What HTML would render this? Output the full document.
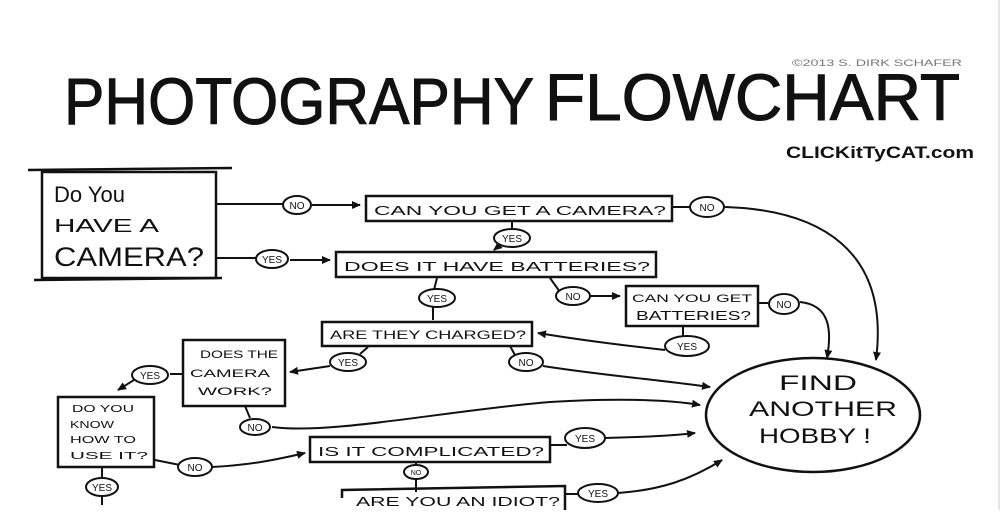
<!DOCTYPE html>
<html><head><style>
html,body{margin:0;padding:0;background:#fff;}
svg{display:block;}
text{font-family:"Liberation Sans",sans-serif;fill:#111;}
</style></head><body>
<svg width="1004" height="521" viewBox="0 0 1004 521" xmlns="http://www.w3.org/2000/svg">
<defs>
<marker id="a" markerWidth="10" markerHeight="10" refX="8" refY="5" orient="auto" markerUnits="userSpaceOnUse"><path d="M0,1 L9,5 L0,9 z" fill="#111"/></marker>
</defs>
<rect x="0" y="0" width="1004" height="521" fill="#fff"/>
<line x1="999" y1="0" x2="999" y2="510" stroke="#e4e4e4" stroke-width="2"/>
<text x="64" y="124" font-size="66" stroke="#111" stroke-width="1" textLength="470" lengthAdjust="spacingAndGlyphs" style="font-family:'Liberation Sans Narrow','Liberation Sans',sans-serif">PHOTOGRAPHY</text>
<text x="545" y="120" font-size="66" stroke="#111" stroke-width="1" textLength="415" lengthAdjust="spacingAndGlyphs" style="font-family:'Liberation Sans Narrow','Liberation Sans',sans-serif">FLOWCHART</text>
<text x="792" y="66" font-size="9" style="fill:#777" textLength="170" lengthAdjust="spacingAndGlyphs">©2013 S. DIRK SCHAFER</text>
<text x="786" y="158" font-size="17" font-weight="bold" textLength="188" lengthAdjust="spacingAndGlyphs">CLICKitTyCAT.com</text>

<g fill="none" stroke="#111" stroke-width="2.5">
<rect x="42" y="172" width="174" height="106"/>
<line x1="28" y1="170" x2="232" y2="168"/>
<line x1="34" y1="280" x2="222" y2="278"/>
<rect x="366" y="196" width="306" height="25"/>
<rect x="336" y="252" width="320" height="25"/>
<rect x="322" y="322" width="210" height="24"/>
<rect x="626" y="286" width="132" height="40"/>
<rect x="183" y="340" width="102" height="66"/>
<rect x="58" y="397" width="96" height="70"/>
<rect x="310" y="437" width="240" height="25"/>
<path d="M342,498 L342,490 L565,486 L565,510"/>
<ellipse cx="813" cy="415" rx="107" ry="57"/>
</g>

<g fill="none" stroke="#111" stroke-width="2">
<path d="M216,204 H283"/><path d="M312,205 H360" marker-end="url(#a)"/>
<path d="M216,258 H256"/><path d="M290,260 H330" marker-end="url(#a)"/>
<path d="M672,207 H690"/>
<path d="M725,207 C820,210 890,250 876,360" marker-end="url(#a)"/>
<path d="M512,222 V230"/><path d="M500,245 L494,250" marker-end="url(#a)"/>
<path d="M437,278 L434,290"/><path d="M433,306 V320"/>
<path d="M550,278 L560,292"/><path d="M590,296 H620" marker-end="url(#a)"/>
<path d="M758,303 H768"/>
<path d="M800,302 C830,305 832,330 827,358" marker-end="url(#a)"/>
<path d="M683,326 V338"/>
<path d="M665,350 C620,345 580,340 538,333" marker-end="url(#a)"/>
<path d="M510,346 L515,355"/>
<path d="M543,366 C600,375 660,380 710,387" marker-end="url(#a)"/>
<path d="M368,347 L360,354"/>
<path d="M330,366 L290,372" marker-end="url(#a)"/>
<path d="M183,374 H170"/>
<path d="M134,380 L118,390" marker-end="url(#a)"/>
<path d="M245,406 L250,418"/>
<path d="M272,427 C330,435 450,410 550,402 C620,398 670,400 700,405" marker-end="url(#a)"/>
<path d="M155,460 L180,465"/>
<path d="M212,467 C250,465 275,460 305,453" marker-end="url(#a)"/>
<path d="M550,445 H567"/><path d="M604,438 C640,437 670,436 695,433" marker-end="url(#a)"/>
<path d="M416,462 V466"/><path d="M416,478 V492"/>
<path d="M565,494 H580"/><path d="M618,493 C660,490 690,480 722,460" marker-end="url(#a)"/>
<path d="M102,467 V478"/><path d="M102,496 V505"/>
</g>

<g fill="#fff" stroke="#111" stroke-width="2">
<ellipse cx="297" cy="205" rx="14" ry="9"/>
<ellipse cx="272" cy="259" rx="16" ry="9"/>
<ellipse cx="707" cy="207" rx="17" ry="10"/>
<ellipse cx="512" cy="238" rx="18" ry="9"/>
<ellipse cx="437" cy="298" rx="18" ry="9"/>
<ellipse cx="573" cy="296" rx="17" ry="9"/>
<ellipse cx="784" cy="304" rx="15" ry="10"/>
<ellipse cx="687" cy="346" rx="22" ry="10"/>
<ellipse cx="526" cy="362" rx="17" ry="9"/>
<ellipse cx="348" cy="362" rx="18" ry="9"/>
<ellipse cx="150" cy="375" rx="18" ry="9"/>
<ellipse cx="255" cy="427" rx="15" ry="8"/>
<ellipse cx="195" cy="467" rx="17" ry="9"/>
<ellipse cx="585" cy="438" rx="20" ry="10"/>
<ellipse cx="416" cy="472" rx="12" ry="7"/>
<ellipse cx="598" cy="493" rx="20" ry="9"/>
<ellipse cx="102" cy="487" rx="16" ry="9"/>
</g>
<g font-size="10" text-anchor="middle">
<text x="297" y="209">NO</text>
<text x="272" y="263">YES</text>
<text x="707" y="211">NO</text>
<text x="512" y="242">YES</text>
<text x="437" y="302">YES</text>
<text x="573" y="300">NO</text>
<text x="784" y="308">NO</text>
<text x="687" y="350">YES</text>
<text x="526" y="366">NO</text>
<text x="348" y="366">YES</text>
<text x="150" y="379">YES</text>
<text x="255" y="431">NO</text>
<text x="195" y="471">NO</text>
<text x="585" y="442">YES</text>
<text x="416" y="475" font-size="7">NO</text>
<text x="598" y="497">YES</text>
<text x="102" y="491">YES</text>
</g>

<text x="54" y="202" font-size="22">Do You</text>
<text x="54" y="232" font-size="18" textLength="105" lengthAdjust="spacingAndGlyphs">HAVE A</text>
<text x="54" y="266" font-size="27" textLength="150" lengthAdjust="spacingAndGlyphs">CAMERA?</text>
<g font-size="13">
<text x="374" y="215" textLength="292" lengthAdjust="spacingAndGlyphs">CAN YOU GET A CAMERA?</text>
<text x="344" y="271" textLength="306" lengthAdjust="spacingAndGlyphs">DOES IT HAVE BATTERIES?</text>
<text x="330" y="339" textLength="196" lengthAdjust="spacingAndGlyphs" font-size="12">ARE THEY CHARGED?</text>
<text x="632" y="302" font-size="11" textLength="120" lengthAdjust="spacingAndGlyphs">CAN YOU GET</text>
<text x="636" y="320" font-size="13" textLength="115" lengthAdjust="spacingAndGlyphs">BATTERIES?</text>
<text x="200" y="358" font-size="11" textLength="78" lengthAdjust="spacingAndGlyphs">DOES THE</text>
<text x="190" y="377" font-size="11" textLength="80" lengthAdjust="spacingAndGlyphs">CAMERA</text>
<text x="198" y="395" font-size="11" textLength="74" lengthAdjust="spacingAndGlyphs">WORK?</text>
<text x="72" y="412" font-size="10" textLength="62" lengthAdjust="spacingAndGlyphs">DO YOU</text>
<text x="70" y="428" font-size="10" textLength="44" lengthAdjust="spacingAndGlyphs">KNOW</text>
<text x="70" y="443" font-size="10" textLength="66" lengthAdjust="spacingAndGlyphs">HOW TO</text>
<text x="70" y="459" font-size="10" textLength="78" lengthAdjust="spacingAndGlyphs">USE IT?</text>
<text x="318" y="456" textLength="226" lengthAdjust="spacingAndGlyphs">IS IT COMPLICATED?</text>
<text x="356" y="506" textLength="204" lengthAdjust="spacingAndGlyphs">ARE YOU AN IDIOT?</text>
</g>
<g font-size="21" text-anchor="middle">
<text x="818" y="390" textLength="78" lengthAdjust="spacingAndGlyphs">FIND</text>
<text x="823" y="416" textLength="148" lengthAdjust="spacingAndGlyphs">ANOTHER</text>
<text x="815" y="443" textLength="112" lengthAdjust="spacingAndGlyphs">HOBBY !</text>
</g>
<rect x="0" y="510" width="1004" height="11" fill="#fff"/>
</svg>
</body></html>
